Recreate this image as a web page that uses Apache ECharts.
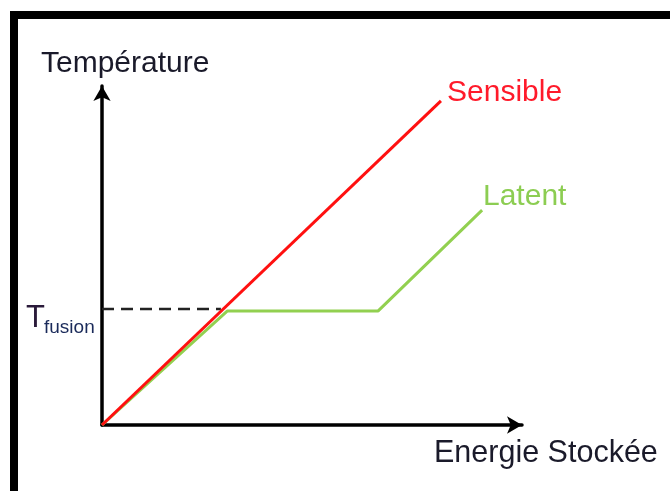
<!DOCTYPE html>
<html>
<head>
<meta charset="utf-8">
<script src="https://cdn.jsdelivr.net/npm/echarts@6/dist/echarts.min.js"></script>
<style>
html,body{margin:0;padding:0;background:#fff;}
#c{width:670px;height:491px;}
</style>
</head>
<body>
<div id="c"></div>
<script>
// Schematic values (energy on x, temperature on y, arbitrary units 0-100)
const sensibleEnergy = [0, 80.7];
const sensibleTemp   = [0, 95.6];
const latentEnergy   = [0, 29.8, 65.7, 90.5];
const latentTemp     = [0, 33.6, 33.6, 63.4];
const fusionTemp = 34.2;
const fusionEnergy = 28.3;
const xTitle = 'Energie Stockée';
const yTitle = 'Température';
const seriesNames = ['Sensible', 'Latent'];

const chart = echarts.init(document.getElementById('c'));
const FONT = '"Liberation Sans", Arial, sans-serif';
const sens = sensibleEnergy.map((x, i) => [x, sensibleTemp[i]]);
const lat = latentEnergy.map((x, i) => [x, latentTemp[i]]);

chart.setOption({
  animation: false,
  backgroundColor: '#ffffff',
  grid: { left: 102, right: 148, top: 86, bottom: 66 },
  xAxis: {
    type: 'value', min: 0, max: 100,
    axisLine: { show: true, symbol: ['none', 'arrow'], symbolSize: [13, 15],
      lineStyle: { color: '#000', width: 3.5 } },
    axisTick: { show: false }, axisLabel: { show: false }, splitLine: { show: false }
  },
  yAxis: {
    type: 'value', min: 0, max: 100,
    axisLine: { show: true, symbol: ['none', 'arrow'], symbolSize: [13, 15],
      lineStyle: { color: '#000', width: 3.5 } },
    axisTick: { show: false }, axisLabel: { show: false }, splitLine: { show: false }
  },
  series: [
    {
      type: 'line', name: 'fusion', data: [[0, fusionTemp], [fusionEnergy, fusionTemp]],
      symbol: 'none', lineStyle: { color: '#222', width: 2.5, type: [12, 7] }, z: 1
    },
    {
      type: 'line', name: seriesNames[1], data: lat, symbol: 'none',
      lineStyle: { color: '#92d050', width: 3 }, z: 2
    },
    {
      type: 'line', name: seriesNames[0], data: sens, symbol: 'none',
      lineStyle: { color: '#ff1010', width: 3 }, z: 3
    }
  ],
  graphic: [
    { type: 'rect', shape: { x: 14, y: 15, width: 800, height: 600 },
      style: { fill: 'none', stroke: '#000', lineWidth: 8 } },
    { type: 'text', x: 41, y: 64, style: { text: yTitle, font: '30px ' + FONT, fill: '#1a1a2a', verticalAlign: 'middle', align: 'left' } },
    { type: 'text', x: 434, y: 454, style: { text: xTitle, font: '30.5px ' + FONT, fill: '#1a1a2a', verticalAlign: 'middle', align: 'left' } },
    { type: 'text', x: 447, y: 93, style: { text: seriesNames[0], font: '30px ' + FONT, fill: '#ff1a2a', verticalAlign: 'middle', align: 'left' } },
    { type: 'text', x: 483, y: 197, style: { text: seriesNames[1], font: '30px ' + FONT, fill: '#8ccd52', verticalAlign: 'middle', align: 'left' } },
    { type: 'text', x: 26, y: 318, style: { text: 'T', font: '31px ' + FONT, fill: '#2a1a3a', verticalAlign: 'middle', align: 'left' } },
    { type: 'text', x: 44, y: 328, style: { text: 'fusion', font: '19px ' + FONT, fill: '#1a2a5a', verticalAlign: 'middle', align: 'left' } }
  ]
});
</script>
</body>
</html>
